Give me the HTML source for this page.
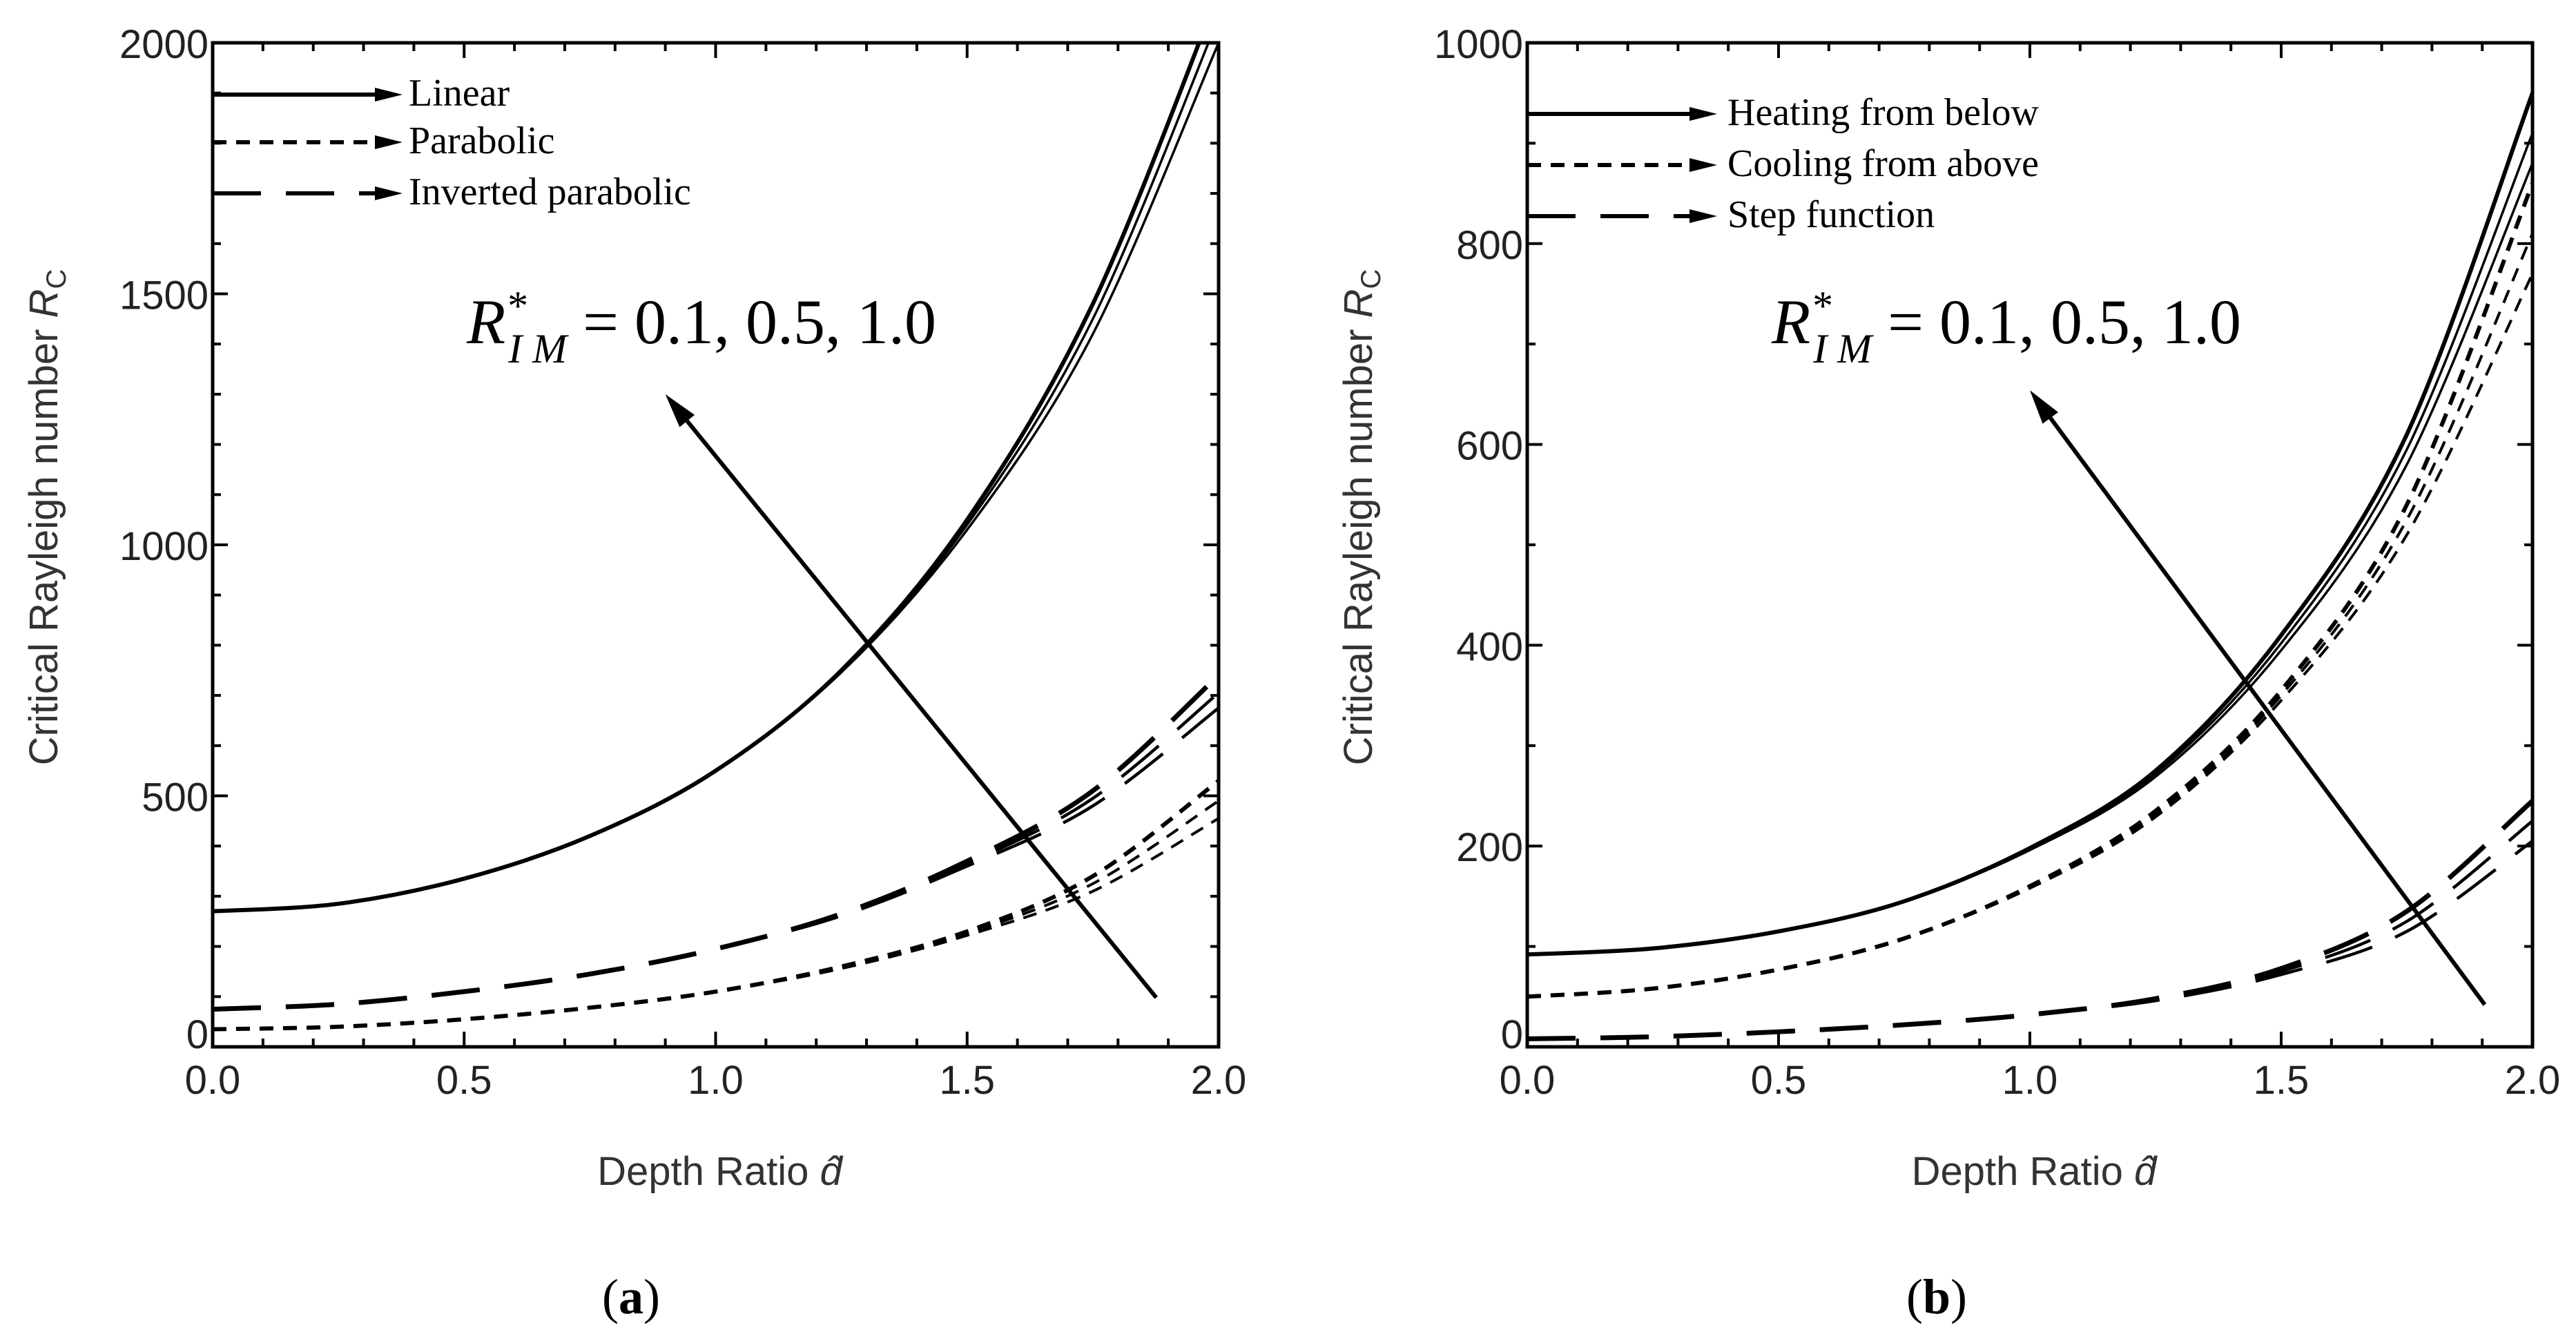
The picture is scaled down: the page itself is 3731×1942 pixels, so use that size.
<!DOCTYPE html>
<html><head><meta charset="utf-8"><style>
html,body{margin:0;padding:0;background:#fff;}
svg{display:block;}
</style></head><body>
<svg id="fig" width="3731" height="1942" xmlns="http://www.w3.org/2000/svg">
<rect width="3731" height="1942" fill="#fff"/>
<g id="pa"></g>
<g id="pb"></g>
<text x="676" y="497" font-family="Liberation Serif, serif" font-size="92"><tspan font-style="italic">R</tspan><tspan font-style="italic" font-size="60" dy="-34">*</tspan><tspan font-style="italic" font-size="60" dx="-26" dy="62">I M</tspan><tspan dy="-28"> = 0.1, 0.5, 1.0</tspan></text>
<text x="2566" y="497" font-family="Liberation Serif, serif" font-size="92"><tspan font-style="italic">R</tspan><tspan font-style="italic" font-size="60" dy="-34">*</tspan><tspan font-style="italic" font-size="60" dx="-26" dy="62">I M</tspan><tspan dy="-28"> = 0.1, 0.5, 1.0</tspan></text>
<text x="914" y="1902" text-anchor="middle" font-family="Liberation Serif, serif" font-size="72">(<tspan font-weight="bold">a</tspan>)</text>
<text x="2805" y="1902" text-anchor="middle" font-family="Liberation Serif, serif" font-size="72">(<tspan font-weight="bold">b</tspan>)</text>
</svg>
<script>
const dVals = [0,0.25,0.5,0.75,1.0,1.25,1.5,1.75,2.0];
// Panel a
const aLinear = [[270,285,335,420,550,750,1050,1480,2100],[270,285,335,420,550,748,1040,1450,2050],[270,285,335,420,550,746,1030,1420,2000]];
const aParabolic = [[35,40,55,78,110,160,230,340,530],[35,40,55,78,110,158,226,325,490],[35,40,55,78,110,156,222,310,455]];
const aInverted = [[75,85,110,145,195,265,370,510,740],[75,85,110,145,195,263,365,495,705],[75,85,110,145,195,261,360,480,675]];
// Panel b
const bHeating = [[92,98,115,145,198,275,410,610,950],[92,98,115,145,197,272,402,595,910],[92,98,115,145,196,269,395,580,880]];
const bCooling = [[50,58,77,108,160,235,355,540,860],[50,58,77,108,159,232,350,525,810],[50,58,77,108,158,229,345,510,770]];
const bStep = [[8,10,15,22,32,48,78,135,245],[8,10,15,22,32,47,75,125,225],[8,10,15,22,32,46,72,115,205]];
const aTicksY = [0,500,1000,1500,2000];
const bTicksY = [0,200,400,600,800,1000];
const xTicks = [0,0.5,1.0,1.5,2.0];
const aArrow = [[1.876,98],[0.90,1300]];
const bArrow = [[1.905,42],[1.0,654]];

const NS="http://www.w3.org/2000/svg";
function el(tag,attrs,parent){const e=document.createElementNS(NS,tag);for(const k in attrs)e.setAttribute(k,attrs[k]);parent.appendChild(e);return e;}

function panel(g,id,x0,x1,y0,y1,ymax,yminor,ticksY,series,legendNames,arrow,legY,legTextX){
  const sx=v=>x0+(v/2)*(x1-x0);
  const sy=v=>y1-(v/ymax)*(y1-y0);
  const cp=el('clipPath',{id:'clip'+id},g);
  el('rect',{x:x0,y:y0,width:x1-x0,height:y1-y0},cp);
  const styles=[{dash:'',w:[6,3.5,3.5]},{dash:'20 14',w:[6,4,4]},{dash:'70 36',w:[7,4.5,4.5]}];
  const names=['solid','short-dash','long-dash'];
  series.forEach((set,si)=>{
    set.forEach((vals,vi)=>{
      const pts=dVals.map((d,i)=>[sx(d),sy(vals[i])]);
      let p='M'+pts[0][0]+','+pts[0][1];
      for(let i=0;i<pts.length-1;i++){
        const p0=pts[Math.max(0,i-1)],p1=pts[i],p2=pts[i+1],p3=pts[Math.min(pts.length-1,i+2)];
        const c1=[p1[0]+(p2[0]-p0[0])/6,p1[1]+(p2[1]-p0[1])/6];
        const c2=[p2[0]-(p3[0]-p1[0])/6,p2[1]-(p3[1]-p1[1])/6];
        p+=' C'+c1[0]+','+c1[1]+' '+c2[0]+','+c2[1]+' '+p2[0]+','+p2[1];
      }
      const path=el('path',{d:p,fill:'none',stroke:'#000','stroke-width':styles[si].w[vi],'stroke-dasharray':styles[si].dash,'clip-path':'url(#clip'+id+')'},g);
      
      
    });
  });
  const fr=el('rect',{x:x0,y:y0,width:x1-x0,height:y1-y0,fill:'none',stroke:'#000','stroke-width':5},g);
  
  
  for(let v=0;v<=ymax+1e-9;v+=yminor){
    const major=ticksY.some(t=>Math.abs(t-v)<1e-6);
    const L=major?22:12;
    el('line',{x1:x0,x2:x0+L,y1:sy(v),y2:sy(v),stroke:'#000','stroke-width':4},g);
    el('line',{x1:x1,x2:x1-L,y1:sy(v),y2:sy(v),stroke:'#000','stroke-width':4},g);
  }
  ticksY.forEach(t=>{
    const tx=el('text',{x:x0-6,y:sy(t)+(t===0?2:22),'text-anchor':'end','font-family':'Liberation Sans, sans-serif','font-size':58,fill:'#222'},g);
    tx.textContent=String(t);
    
    
  });
  for(let i=0;i<=20;i++){
    const v=i*0.1;const major=i%5===0;const L=major?22:12;
    el('line',{x1:sx(v),x2:sx(v),y1:y1,y2:y1-L,stroke:'#000','stroke-width':4},g);
    el('line',{x1:sx(v),x2:sx(v),y1:y0,y2:y0+L,stroke:'#000','stroke-width':4},g);
  }
  xTicks.forEach(t=>{
    const tx=el('text',{x:sx(t),y:y1+68,'text-anchor':'middle','font-family':'Liberation Sans, sans-serif','font-size':58,fill:'#222'},g);
    tx.textContent=t.toFixed(1);
    
    
  });
  const xt=el('text',{x:(x0+x1)/2+6,y:y1+200,'text-anchor':'middle','font-family':'Liberation Sans, sans-serif','font-size':58,fill:'#333'},g);
  xt.innerHTML='Depth Ratio <tspan font-style="italic">d\u0302</tspan>';
  
  
  const yt=el('text',{x:0,y:0,'text-anchor':'middle','font-family':'Liberation Sans, sans-serif','font-size':58,fill:'#333',transform:'translate('+(x0-225)+','+((y0+y1)/2-40)+') rotate(-90)'},g);
  yt.innerHTML='Critical Rayleigh number <tspan font-style="italic">R</tspan><tspan font-size="40" dy="12">C</tspan>';
  
  
  legendNames.forEach((n,i)=>{
    const y=legY[i];
    const ln=el('line',{x1:x0,x2:x0+255,y1:y,y2:y,stroke:'#000','stroke-width':6,'stroke-dasharray':styles[i].dash},g);
    
    
    el('polygon',{points:(x0+235)+','+(y-10)+' '+(x0+275)+','+y+' '+(x0+235)+','+(y+10),fill:'#000'},g);
    const t=el('text',{x:legTextX,y:y+16,'font-family':'Liberation Serif, serif','font-size':56,fill:'#000'},g);
    t.textContent=n;
    
    
  });
  const ax1=sx(arrow[0][0]),ay1=sy(arrow[0][1]),ax2=sx(arrow[1][0]),ay2=sy(arrow[1][1]);
  const ang=Math.atan2(ay2-ay1,ax2-ax1);
  const hl=50,hw=14;
  const bx=ax2-hl*Math.cos(ang),by=ay2-hl*Math.sin(ang);
  const ar=el('line',{x1:ax1,y1:ay1,x2:bx,y2:by,stroke:'#000','stroke-width':6},g);
  
  
  el('polygon',{points:ax2+','+ay2+' '+(bx+hw*Math.sin(ang))+','+(by-hw*Math.cos(ang))+' '+(bx-hw*Math.sin(ang))+','+(by+hw*Math.cos(ang)),fill:'#000'},g);
}

panel(document.getElementById('pa'),'a',308,1765,62,1516,2000,100,aTicksY,[aLinear,aParabolic,aInverted],['Linear','Parabolic','Inverted parabolic'],aArrow,[137,206,280],592);
panel(document.getElementById('pb'),'b',2212,3668,62,1516,1000,100,bTicksY,[bHeating,bCooling,bStep],['Heating from below','Cooling from above','Step function'],bArrow,[165,239,313],2502);
</script>
</body></html>
